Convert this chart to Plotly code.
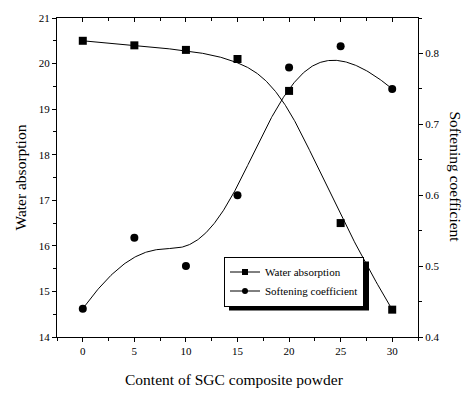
import numpy as np
import plotly.graph_objects as go

content = [0, 5, 10, 15, 20, 25, 30]
water_absorption = [20.5, 20.4, 20.3, 20.1, 19.4, 16.5, 14.6]
softening_coef = [0.44, 0.54, 0.50, 0.60, 0.78, 0.81, 0.75]

x_ticks = [0, 5, 10, 15, 20, 25, 30]
FONT = "Liberation Serif"


def bspline(xs, ys, n=400, k=3):
    P = np.column_stack([xs, ys]).astype(float)
    m = len(P)
    knots = np.concatenate([np.zeros(k), np.linspace(0, 1, m - k + 1), np.ones(k)])
    t = np.linspace(0, 1 - 1e-10, n)
    B = np.zeros((n, len(knots) - 1))
    for i in range(len(knots) - 1):
        B[:, i] = ((knots[i] <= t) & (t < knots[i + 1])).astype(float)
    for d in range(1, k + 1):
        Bn = np.zeros((n, len(knots) - 1 - d))
        for i in range(len(knots) - 1 - d):
            left = 0.0
            right = 0.0
            if knots[i + d] != knots[i]:
                left = (t - knots[i]) / (knots[i + d] - knots[i]) * B[:, i]
            if knots[i + d + 1] != knots[i + 1]:
                right = (knots[i + d + 1] - t) / (knots[i + d + 1] - knots[i + 1]) * B[:, i + 1]
            Bn[:, i] = left + right
        B = Bn
    C = B @ P
    return C[:, 0], C[:, 1]


wx, wy = bspline(content, water_absorption)
sx, sy = bspline(content, softening_coef)

fig = go.Figure()
fig.add_trace(go.Scatter(x=wx, y=wy, mode="lines", line=dict(color="black", width=1),
                         showlegend=False, hoverinfo="skip"))
fig.add_trace(go.Scatter(x=content, y=water_absorption, mode="markers",
                         marker=dict(symbol="square", size=8, color="black"), showlegend=False))
fig.add_trace(go.Scatter(x=sx, y=sy, mode="lines", line=dict(color="black", width=1),
                         showlegend=False, hoverinfo="skip", yaxis="y2"))
fig.add_trace(go.Scatter(x=content, y=softening_coef, mode="markers",
                         marker=dict(symbol="circle", size=8, color="black"), showlegend=False, yaxis="y2"))
# legend proxies
fig.add_trace(go.Scatter(x=[None], y=[None], mode="lines+markers", name="Water absorption",
                         line=dict(color="black", width=1),
                         marker=dict(symbol="square", size=6, color="black")))
fig.add_trace(go.Scatter(x=[None], y=[None], mode="lines+markers", name="Softening coefficient",
                         line=dict(color="black", width=1),
                         marker=dict(symbol="circle", size=6, color="black")))
# dummy trace for top axis
fig.add_trace(go.Scatter(x=[None], y=[None], xaxis="x2", showlegend=False))

L, R, T, B = 57, 52, 12, 57
W, H = 470, 394
pw, ph = W - L - R, H - T - B

axis_common = dict(showgrid=False, zeroline=False, showline=True, linecolor="black", linewidth=1,
                   tickcolor="black", tickfont=dict(family=FONT, size=11, color="black"))

fig.update_layout(
    width=W, height=H,
    margin=dict(l=L, r=R, t=T, b=B),
    paper_bgcolor="white", plot_bgcolor="white",
    font=dict(family=FONT, color="black"),
    xaxis=dict(range=[-2.5, 32.5], tickvals=x_ticks, ticks="outside", ticklen=4,
               minor=dict(dtick=2.5, tick0=0, ticks="outside", ticklen=3, tickcolor="black"),
               **axis_common),
    xaxis2=dict(range=[-2.5, 32.5], overlaying="x", side="top", tickvals=x_ticks, ticks="inside",
                ticklen=4, showticklabels=False,
                minor=dict(dtick=2.5, tick0=0, ticks="inside", ticklen=3, tickcolor="black"),
                **axis_common),
    yaxis=dict(range=[14, 21], dtick=1, tick0=14, ticks="outside", ticklen=4,
               minor=dict(dtick=0.5, tick0=14, ticks="outside", ticklen=3, tickcolor="black"),
               **axis_common),
    yaxis2=dict(range=[0.4, 0.85], overlaying="y", side="right", dtick=0.1, tick0=0.4,
                tickformat=".1f", ticks="outside", ticklen=4,
                minor=dict(dtick=0.05, tick0=0.4, ticks="outside", ticklen=3, tickcolor="black"),
                **axis_common),
    legend=dict(x=(224 - L) / pw, y=(H - B - 255) / ph, xanchor="left", yanchor="top",
                bgcolor="white", bordercolor="black", borderwidth=1,
                font=dict(family=FONT, size=11, color="black"),
                itemwidth=30, tracegroupgap=0),
    annotations=[
        dict(text="Water absorption", x=(20 - L) / pw, y=0.5, xref="paper", yref="paper",
             textangle=-90, showarrow=False, font=dict(family=FONT, size=15.5, color="black"),
             xanchor="center", yanchor="middle"),
        dict(text="Softening coefficient", x=(455 - L) / pw, y=0.5, xref="paper", yref="paper",
             textangle=90, showarrow=False, font=dict(family=FONT, size=15.5, color="black"),
             xanchor="center", yanchor="middle"),
        dict(text="Content of SGC composite powder", x=(234.5 - L) / pw, y=(H - B - 380) / ph,
             xref="paper", yref="paper", showarrow=False,
             font=dict(family=FONT, size=15.5, color="black"), xanchor="center", yanchor="middle"),
    ],
)

# legend drop shadow (estimated legend box size)
lx0, ly0, lw, lh = 224, 255, 140, 50
off = 5
fig.add_shape(type="rect", xref="paper", yref="paper",
              x0=(lx0 + off - L) / pw, x1=(lx0 + lw + off - L) / pw,
              y0=(H - B - (ly0 + lh + off)) / ph, y1=(H - B - (ly0 + off)) / ph,
              fillcolor="black", line=dict(width=0), layer="above")

fig.write_html("out.html")
